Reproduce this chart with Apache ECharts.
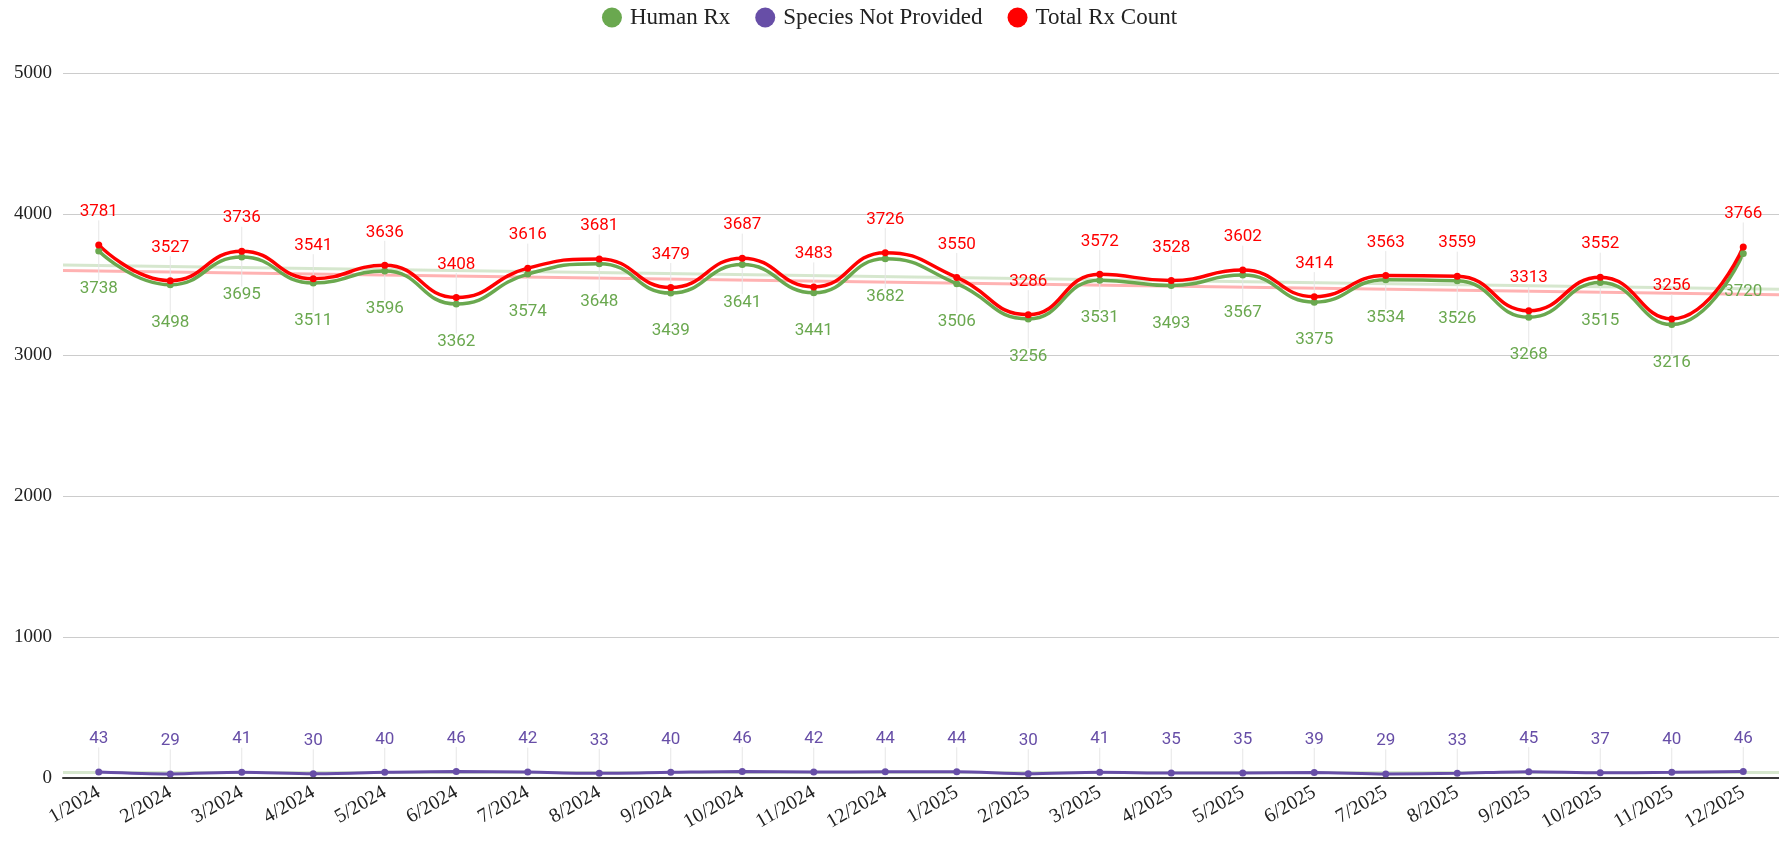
<!DOCTYPE html>
<html>
<head>
<meta charset="utf-8">
<script src="https://cdn.jsdelivr.net/npm/echarts@6/dist/echarts.min.js"></script>
<style>
  html, body { margin: 0; padding: 0; background: #fff; }
  #chart { width: 1779px; height: 843px; }
</style>
</head>
<body>
<div id="chart"></div>
<script>
const months = ['1/2024','2/2024','3/2024','4/2024','5/2024','6/2024','7/2024','8/2024','9/2024','10/2024','11/2024','12/2024',
  '1/2025','2/2025','3/2025','4/2025','5/2025','6/2025','7/2025','8/2025','9/2025','10/2025','11/2025','12/2025'];
const humanRx = [3738,3498,3695,3511,3596,3362,3574,3648,3439,3641,3441,3682,3506,3256,3531,3493,3567,3375,3534,3526,3268,3515,3216,3720];
const speciesNotProvided = [43,29,41,30,40,46,42,33,40,46,42,44,44,30,41,35,35,39,29,33,45,37,40,46];
const totalRx = [3781,3527,3736,3541,3636,3408,3616,3681,3479,3687,3483,3726,3550,3286,3572,3528,3602,3414,3563,3559,3313,3552,3256,3766];

const GREEN = '#6aa84f';
const PURPLE = '#674ea7';
const RED = '#ff0000';
const serif = '"Liberation Serif", "DejaVu Serif", serif';

// least squares trend, drawn across the whole plot width
function trend(values) {
  const n = values.length;
  let sx = 0, sy = 0, sxy = 0, sxx = 0;
  values.forEach((v, i) => { sx += i; sy += v; sxy += i * v; sxx += i * i; });
  const b = (n * sxy - sx * sy) / (n * sxx - sx * sx);
  const a = (sy - b * sx) / n;
  return [[-0.5, a - 0.5 * b], [n - 0.5, a + (n - 0.5) * b]];
}

function mainSeries(name, data, color, pos, dy, width, size) {
  return {
    name: name,
    type: 'line',
    data: data,
    smooth: 0.5,
    symbol: 'circle',
    symbolSize: size,
    itemStyle: { color: color },
    lineStyle: { color: color, width: width },
    label: {
      show: true,
      position: pos,
      distance: 2,
      color: color,
      fontFamily: 'Roboto',
      fontSize: 17
    },
    labelLayout: { dy: dy },
    labelLine: { show: true, lineStyle: { color: '#e6e6e6', width: 1 } },
    z: 3
  };
}

function trendSeries(values, color) {
  return {
    type: 'line',
    xAxisIndex: 1,
    data: trend(values),
    symbol: 'none',
    silent: true,
    lineStyle: { color: color, width: 3 },
    z: 1
  };
}

const chart = echarts.init(document.getElementById('chart'));

const human = mainSeries('Human Rx', humanRx, GREEN, 'bottom', 24, 3.5, 7);
const species = mainSeries('Species Not Provided', speciesNotProvided, PURPLE, 'top', -19, 3, 7);
species.smooth = 0.3;
const total = mainSeries('Total Rx Count', totalRx, RED, 'top', -19, 3.5, 7);

chart.setOption({
  animation: false,
  legend: {
    data: ['Human Rx', 'Species Not Provided', 'Total Rx Count'],
    top: 1,
    left: 'center',
    icon: 'circle',
    itemWidth: 26,
    itemHeight: 20,
    itemGap: 25,
    textStyle: { fontFamily: serif, fontSize: 23, color: '#222' }
  },
  grid: { left: 63, right: 0, top: 73, bottom: 65 },
  xAxis: [{
    type: 'category',
    data: months,
    boundaryGap: true,
    axisLine: { lineStyle: { color: '#3a3a3a', width: 2 } },
    axisTick: { show: false },
    axisLabel: { rotate: 30, fontFamily: serif, fontSize: 20, color: '#222', margin: 13, interval: 0 }
  }, {
    type: 'value',
    min: -0.5,
    max: months.length - 0.5,
    show: false
  }],
  yAxis: {
    type: 'value',
    min: 0,
    max: 5000,
    interval: 1000,
    axisLine: { show: false },
    axisTick: { show: false },
    splitLine: { lineStyle: { color: '#cccccc', width: 1 } },
    axisLabel: { fontFamily: serif, fontSize: 19, color: '#222', margin: 11, formatter: v => String(v) }
  },
  series: [
    // the reference draws the total trend in green and the human trend in red
    trendSeries(totalRx, 'rgba(106,168,79,0.28)'),
    trendSeries(speciesNotProvided, 'rgba(106,168,79,0.28)'),
    trendSeries(humanRx, 'rgba(255,0,0,0.3)'),
    human, species, total
  ]
});
</script>
</body>
</html>
